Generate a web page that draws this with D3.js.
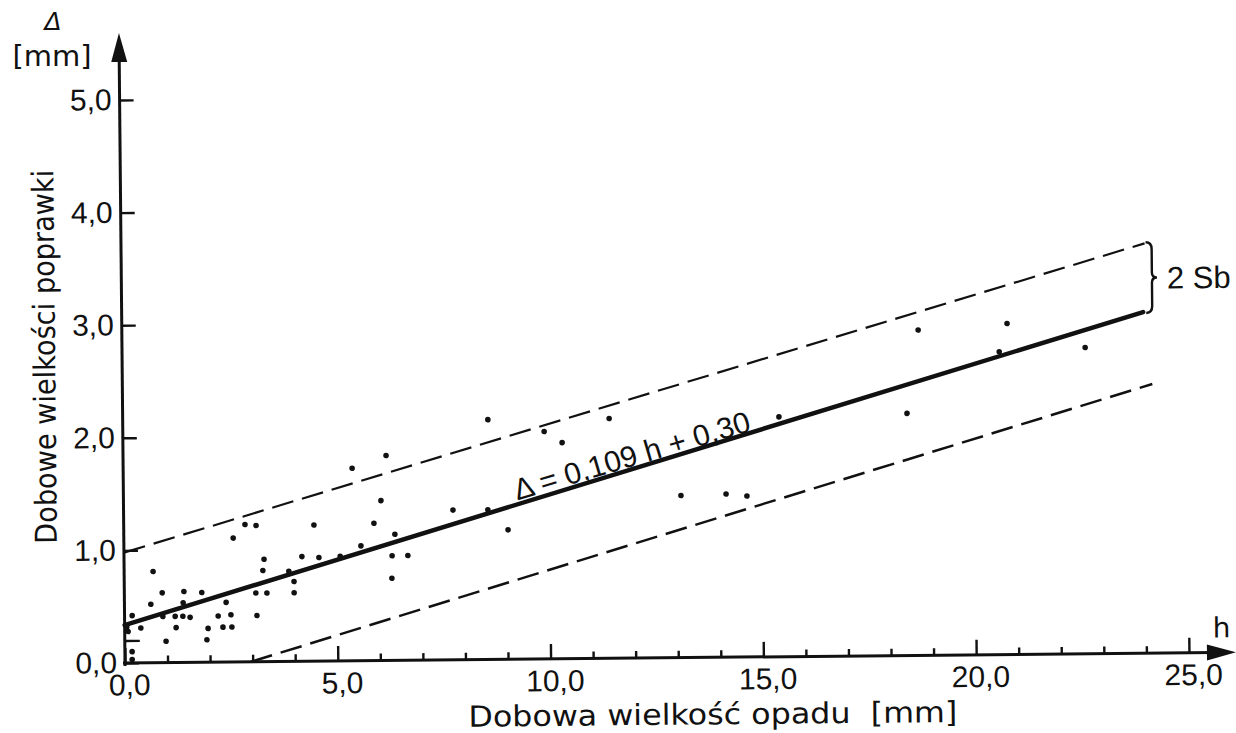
<!DOCTYPE html>
<html lang="pl">
<head>
  <meta charset="UTF-8">
  <title>Dobowe wielkości poprawki</title>
  <script src="https://d3js.org/d3.v7.min.js"></script>
  <style>
    body { margin: 0; background: #fff; }
    text { fill: #111; }
  </style>
</head>
<body>
  <div id="chart"></div>

  <script>
    // Axis ticks and labels
    const xTicks = [0, 5, 10, 15, 20, 25];
    const xTickLabels = ["0,0", "5,0", "10,0", "15,0", "20,0", "25,0"];
    const yTicks = [0, 1, 2, 3, 4, 5];
    const yTickLabels = ["0,0", "1,0", "2,0", "3,0", "4,0", "5,0"];
    const yExtraTicks = [0.2];

    // Measured points: daily precipitation h [mm] and correction Δ [mm]
    const precipitation = [
      0.18, 0.05, 0.08, 0.38, 0.17, 0.17, 0.68, 0.62, 0.89, 0.90,
      0.97, 1.19, 1.21, 1.38, 1.40, 1.37, 1.54, 1.82, 1.93, 1.96,
      2.20, 2.31, 2.39, 2.50, 2.52, 3.09, 3.11, 3.26, 3.29, 3.35,
      3.87, 3.99, 3.99, 4.18, 4.58, 5.08, 5.57, 6.30, 6.29, 6.67,
      2.57, 2.85, 3.11, 4.47, 5.38, 5.88, 6.05, 6.18, 6.37, 8.58,
      9.90, 10.32, 11.43, 15.42, 7.74, 8.56, 9.03, 13.10, 14.16, 14.65,
      18.71, 20.80, 20.61, 22.63, 18.43
    ];
    const correction = [
      0.42, 0.32, 0.28, 0.31, 0.10, 0.03, 0.81, 0.52, 0.62, 0.41,
      0.19, 0.41, 0.31, 0.53, 0.63, 0.41, 0.40, 0.62, 0.20, 0.30,
      0.41, 0.31, 0.53, 0.42, 0.31, 0.61, 0.41, 0.81, 0.91, 0.61,
      0.80, 0.71, 0.61, 0.93, 0.92, 0.93, 1.02, 0.93, 0.73, 0.93,
      1.10, 1.22, 1.21, 1.21, 1.71, 1.22, 1.42, 1.82, 1.12, 2.13,
      2.02, 1.92, 2.13, 2.13, 1.33, 1.33, 1.15, 1.44, 1.45, 1.43,
      2.89, 2.94, 2.69, 2.72, 2.15
    ];

    // Regression line and the ±Sb band as drawn
    const regH = [0, 24.0];
    const regD = [0.337, 3.03];
    const upperH = [0, 24.05];
    const upperD = [0.98, 3.64];
    const lowerH = [2.96, 24.2];
    const lowerD = [0, 2.39];

    const ink = "#111";
    const W = 1064, H = 563;

    const svg = d3.select("#chart").append("svg")
      .attr("width", 1236)
      .attr("height", 733);

    svg.append("rect").attr("width", 1236).attr("height", 733).attr("fill", "#fff");

    // the scanned figure is slightly tilted
    const g = svg.append("g")
      .attr("transform", `translate(125,663) rotate(-0.55) translate(0,${-H})`);

    const x = d3.scaleLinear().domain([0, 25]).range([0, W]);
    const y = d3.scaleLinear().domain([0, 5]).range([H, 0]);

    // --- axes ---
    const minorTicks = d3.range(1, 25).filter((d) => d % 5 !== 0);

    g.append("g")
      .attr("transform", `translate(0,${H})`)
      .call(d3.axisBottom(x).tickValues(minorTicks).tickSize(-7).tickFormat(""));

    g.append("g")
      .attr("class", "xaxis")
      .attr("transform", `translate(0,${H})`)
      .call(d3.axisBottom(x)
        .tickValues(xTicks)
        .tickSizeInner(-15)
        .tickSizeOuter(0)
        .tickPadding(11)
        .tickFormat((d, i) => xTickLabels[i]));

    g.append("g")
      .attr("class", "yaxis")
      .call(d3.axisLeft(y)
        .tickValues(yTicks)
        .tickSizeInner(-14)
        .tickSizeOuter(0)
        .tickPadding(8)
        .tickFormat((d, i) => yTickLabels[i]));

    g.append("g")
      .call(d3.axisLeft(y).tickValues(yExtraTicks).tickSize(-15).tickFormat(""));

    g.selectAll(".domain").remove();
    g.selectAll(".tick line").attr("stroke", ink).attr("stroke-width", 2.4);
    g.selectAll(".tick text")
      .attr("fill", ink)
      .style("font-family", "'Liberation Sans', Arial, sans-serif")
      .style("font-size", "30px");
    g.selectAll(".xaxis .tick text").attr("dx", 4);

    // axis lines with arrow heads
    g.append("line")
      .attr("x1", -2).attr("x2", W + 25)
      .attr("y1", H).attr("y2", H)
      .attr("stroke", ink).attr("stroke-width", 3);
    g.append("path")
      .attr("d", `M${W + 18},${H - 8} L${W + 47},${H} L${W + 18},${H + 8} Z`)
      .attr("fill", ink);

    g.append("line")
      .attr("x1", 0).attr("x2", 0)
      .attr("y1", H + 3).attr("y2", -44)
      .attr("stroke", ink).attr("stroke-width", 3);
    g.append("path")
      .attr("d", `M-8,-38 L0,-67 L8,-38 Z`)
      .attr("fill", ink);

    // --- lines ---
    const line = d3.line().x((d) => x(d[0])).y((d) => y(d[1]));

    g.append("path")
      .datum(d3.zip(upperH, upperD))
      .attr("d", line)
      .attr("fill", "none").attr("stroke", ink)
      .attr("stroke-width", 2.2).attr("stroke-dasharray", "22,9");

    g.append("path")
      .datum(d3.zip(lowerH, lowerD))
      .attr("d", line)
      .attr("fill", "none").attr("stroke", ink)
      .attr("stroke-width", 2.5).attr("stroke-dasharray", "22,9");

    g.append("path")
      .datum(d3.zip(regH, regD))
      .attr("d", line)
      .attr("fill", "none").attr("stroke", ink)
      .attr("stroke-width", 4.5).attr("stroke-linecap", "round");

    // --- points ---
    g.selectAll(".pt")
      .data(d3.zip(precipitation, correction))
      .enter()
      .append("circle")
      .attr("class", "pt")
      .attr("cx", (d) => x(d[0]))
      .attr("cy", (d) => y(d[1]))
      .attr("r", 2.8)
      .attr("fill", ink);

    // --- equation along the regression line ---
    const slope = (regD[1] - regD[0]) / (regH[1] - regH[0]);
    const angle = Math.atan2(y(regD[1]) - y(regD[0]), x(regH[1]) - x(regH[0])) * 180 / Math.PI;
    const eqH = 9.25;
    g.append("text")
      .attr("transform", `translate(${x(eqH)},${y(regD[0] + slope * eqH) - 4}) rotate(${angle + 0.6})`)
      .style("font-family", "'Liberation Sans', Arial, sans-serif")
      .style("font-size", "30px")
      .text("Δ = 0,109 h + 0,30");

    // --- brace: 2 Sb ---
    const bx = x(upperH[1]) + 1;
    const yTop = y(upperD[1]) - 1;
    const yBot = y(regD[1]) + 1;
    const ym = (yTop + yBot) / 2;
    g.append("path")
      .attr("d", `M${bx},${yTop} Q${bx + 6},${yTop} ${bx + 6},${yTop + 7} L${bx + 6},${ym - 5}` +
        ` Q${bx + 6},${ym} ${bx + 11},${ym} Q${bx + 6},${ym} ${bx + 6},${ym + 5}` +
        ` L${bx + 6},${yBot - 7} Q${bx + 6},${yBot} ${bx},${yBot}`)
      .attr("fill", "none").attr("stroke", ink).attr("stroke-width", 2.4);
    g.append("text")
      .attr("x", bx + 21).attr("y", ym + 11)
      .style("font-family", "'Liberation Sans', Arial, sans-serif")
      .style("font-size", "31px")
      .text("2 Sb");

    // --- axis titles ---
    g.append("text")
      .attr("x", x(13.8)).attr("y", H + 67)
      .attr("text-anchor", "middle")
      .attr("textLength", 489).attr("lengthAdjust", "spacingAndGlyphs")
      .style("font-family", "'DejaVu Sans', sans-serif")
      .style("font-size", "29px")
      .style("white-space", "pre")
      .text("Dobowa wielkość opadu  [mm]");

    g.append("text")
      .attr("transform", `translate(-67,${H - 307}) rotate(-90)`)
      .attr("text-anchor", "middle")
      .attr("textLength", 374).attr("lengthAdjust", "spacingAndGlyphs")
      .style("font-family", "'DejaVu Sans', sans-serif")
      .style("font-size", "30px")
      .text("Dobowe wielkości poprawki");

    g.append("text")
      .attr("x", W + 24).attr("y", H - 15)
      .style("font-family", "'DejaVu Sans', sans-serif")
      .style("font-size", "28px")
      .text("h");

    svg.append("text")
      .attr("x", 53).attr("y", 30)
      .attr("text-anchor", "middle")
      .style("font-family", "'DejaVu Sans', sans-serif")
      .style("font-size", "25px")
      .style("font-style", "italic")
      .text("Δ");

    svg.append("text")
      .attr("x", 52).attr("y", 66)
      .attr("text-anchor", "middle")
      .style("font-family", "'DejaVu Sans', sans-serif")
      .style("font-size", "29px")
      .text("[mm]");
  </script>
</body>
</html>
